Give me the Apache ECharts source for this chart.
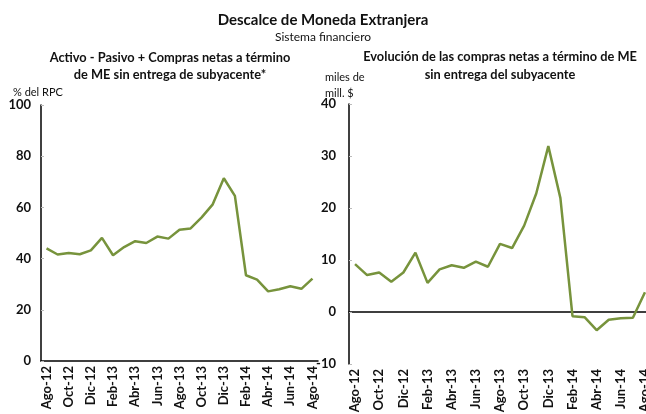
<!DOCTYPE html>
<html>
<head>
<meta charset="utf-8">
<script src="https://cdn.jsdelivr.net/npm/echarts@6/dist/echarts.min.js"></script>
<style>
  html, body { margin: 0; padding: 0; background: #fff; }
  #chart { width: 646px; height: 414px; }
</style>
</head>
<body>
<div id="chart"></div>
<script>
// meses Ago-12 .. Ago-14
var meses = ['Ago-12', 'Sep-12', 'Oct-12', 'Nov-12', 'Dic-12', 'Ene-13', 'Feb-13', 'Mar-13', 'Abr-13',
  'May-13', 'Jun-13', 'Jul-13', 'Ago-13', 'Sep-13', 'Oct-13', 'Nov-13', 'Dic-13', 'Ene-14', 'Feb-14',
  'Mar-14', 'Abr-14', 'May-14', 'Jun-14', 'Jul-14', 'Ago-14'];

// Activo - Pasivo + Compras netas a término (% del RPC)
var descalce = [44.0, 41.6, 42.2, 41.7, 43.2, 48.1, 41.3, 44.5, 46.8, 46.1, 48.6, 47.8, 51.3,
  51.8, 56.1, 61.2, 71.4, 64.5, 33.5, 31.8, 27.2, 28.0, 29.2, 28.2, 32.2];

// compras netas a término (miles de mill. $)
var comprasNetas = [9.2, 7.1, 7.6, 5.8, 7.6, 11.4, 5.6, 8.2, 9.0, 8.5, 9.7, 8.7, 13.1,
  12.3, 16.6, 22.8, 31.9, 21.9, -0.8, -1.0, -3.5, -1.5, -1.2, -1.1, 3.8];

var ticksIzq = [0, 20, 40, 60, 80, 100];
var ticksDer = [-10, 0, 10, 20, 30, 40];

var verde = '#77933C';
var fuente = 'Lato, "Open Sans", sans-serif';

var chart = echarts.init(document.getElementById('chart'));

function etiquetaX(show) {
  return {
    show: show,
    interval: 1,
    rotate: 90,
    margin: 5,
    fontSize: 13,
    fontWeight: 'bold',
    color: '#111',
    fontFamily: fuente
  };
}

var option = {
  animation: false,
  textStyle: { fontFamily: fuente },
  title: [
    {
      text: 'Descalce de Moneda Extranjera',
      left: 'center', top: 8,
      textStyle: { fontSize: 15, fontWeight: 'bold', color: '#111' }
    },
    {
      text: 'Sistema financiero',
      left: 'center', top: 26,
      textStyle: { fontSize: 12, fontWeight: 'normal', color: '#111' }
    },
    {
      text: 'Activo - Pasivo + Compras netas a término\nde ME sin entrega de subyacente*',
      left: 165, top: 44, textAlign: 'center',
      textStyle: { fontSize: 12.8, fontWeight: 'bold', color: '#111', lineHeight: 17 }
    },
    {
      text: 'Evolución de las compras netas a término de ME\nsin entrega del subyacente',
      left: 495, top: 43, textAlign: 'center',
      textStyle: { fontSize: 12.8, fontWeight: 'bold', color: '#111', lineHeight: 18 }
    },
    {
      text: '% del RPC',
      left: 8, top: 82,
      textStyle: { fontSize: 11, fontWeight: 'normal', color: '#111' }
    },
    {
      text: 'miles de\nmill. $',
      left: 320, top: 64,
      textStyle: { fontSize: 11, fontWeight: 'normal', color: '#111', lineHeight: 16 }
    }
  ],
  grid: [
    { left: 41, top: 105, width: 277, height: 256, outerBoundsMode: 'none' },
    { left: 349, top: 104, width: 302, height: 260, outerBoundsMode: 'none' }
  ],
  xAxis: [
    {
      gridIndex: 0,
      type: 'category',
      data: meses,
      axisLine: { lineStyle: { color: '#000', width: 1.5 } },
      axisTick: { interval: 1, inside: true, length: 4, lineStyle: { color: '#bbb' } },
      axisLabel: etiquetaX(true)
    },
    {
      gridIndex: 1,
      type: 'category',
      data: meses,
      axisLine: { onZero: true, lineStyle: { color: '#000', width: 1.5 } },
      axisTick: { interval: 1, inside: true, length: 4, lineStyle: { color: '#bbb' } },
      axisLabel: etiquetaX(false)
    },
    {
      gridIndex: 1,
      type: 'category',
      data: meses,
      position: 'bottom',
      axisLine: { show: false, onZero: false },
      axisTick: { show: false },
      axisLabel: etiquetaX(true)
    }
  ],
  yAxis: [
    {
      gridIndex: 0,
      type: 'value',
      min: ticksIzq[0], max: ticksIzq[ticksIzq.length - 1], interval: 20,
      splitLine: { show: false },
      axisLine: { show: true, lineStyle: { color: '#000', width: 1.5 } },
      axisTick: { show: true, inside: true, length: 3, lineStyle: { color: '#bbb' } },
      axisLabel: { margin: 10, fontSize: 13, fontWeight: 'bold', color: '#111' }
    },
    {
      gridIndex: 1,
      type: 'value',
      min: ticksDer[0], max: ticksDer[ticksDer.length - 1], interval: 10,
      splitLine: { show: false },
      axisLine: { show: true, lineStyle: { color: '#000', width: 1.5 } },
      axisTick: { show: true, inside: true, length: 3, lineStyle: { color: '#bbb' } },
      axisLabel: { margin: 13, fontSize: 13, fontWeight: 'bold', color: '#111' }
    }
  ],
  series: [
    {
      name: 'Descalce',
      type: 'line',
      xAxisIndex: 0, yAxisIndex: 0,
      data: descalce,
      symbol: 'none',
      lineStyle: { color: verde, width: 2.5 }
    },
    {
      name: 'Compras netas',
      type: 'line',
      xAxisIndex: 1, yAxisIndex: 1,
      data: comprasNetas,
      symbol: 'none',
      lineStyle: { color: verde, width: 2.5 }
    }
  ]
};

chart.setOption(option);
</script>
</body>
</html>
